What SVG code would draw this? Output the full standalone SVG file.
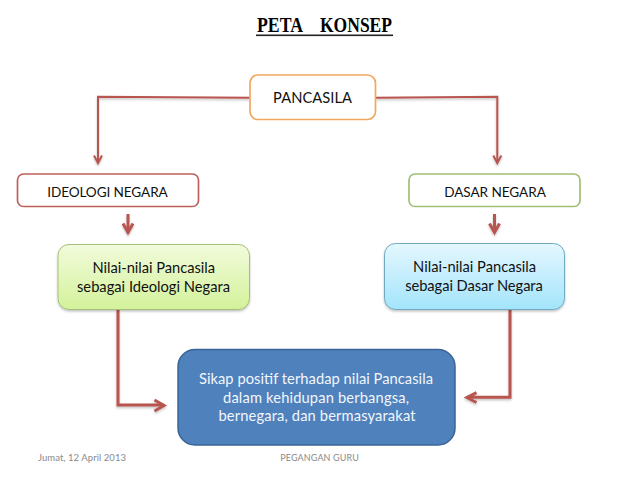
<svg xmlns="http://www.w3.org/2000/svg" width="638" height="479" viewBox="0 0 638 479">
<style>
text{font-family:Lato,"Liberation Sans",sans-serif;font-size:14.700px;text-anchor:middle;fill:#111}
.u{font-size:13.600px}
.w{fill:#f2f6fb}
.f{font-size:9.500px;fill:#8a8a8a}
.t{font-family:"Liberation Serif",serif;font-weight:bold;font-size:20px;text-anchor:start;fill:#000}
.c{fill:none;stroke:#b85450;stroke-linejoin:miter}
.c1{stroke-width:2}
.c2{stroke-width:3}
.sh{filter:url(#s)}
</style>
<defs>
<linearGradient id="g" x1="0" y1="0" x2="0" y2="1"><stop offset="0" stop-color="#f2fbdc"/><stop offset="1" stop-color="#d3f29a"/></linearGradient>
<linearGradient id="b" x1="0" y1="0" x2="0" y2="1"><stop offset="0" stop-color="#e4f7fe"/><stop offset="1" stop-color="#a3e4fb"/></linearGradient>
<filter id="s" x="-10%" y="-10%" width="120%" height="130%"><feDropShadow dx="0" dy="1.500" stdDeviation="1.200" flood-color="#000" flood-opacity=".25"/></filter>
</defs>
<g id="title"><text class="t" x="257" y="32"><tspan x="257" textLength="46" lengthAdjust="spacingAndGlyphs">PETA</tspan><tspan x="320" textLength="72" lengthAdjust="spacingAndGlyphs">KONSEP</tspan></text><rect x="256" y="34.500" width="137" height="1.600" fill="#222"/></g>
<g id="connectors" class="sh">
<path class="c c1" d="M250 97.700L98 96.700V162"/>
<path class="c c1" d="M94 155.500L98 163L102 155.500"/>
<path class="c c1" d="M376 97.700L497.300 96.700V162"/>
<path class="c c1" d="M493.300 155.500L497.300 163L501.300 155.500"/>
<path class="c c2" d="M128 214V233"/>
<path class="c c2" d="M123 223.500L128 232.500L133 223.500"/>
<path class="c c2" d="M494.500 214V233"/>
<path class="c c2" d="M489.500 223.500L494.500 232.500L499.500 223.500"/>
<path class="c c2" d="M118 310V405H164"/>
<path class="c c2" d="M154.500 400L164 405.500L154.500 411"/>
<path class="c c2" d="M510 310V397.300H467"/>
<path class="c c2" d="M476.500 392.700L467 397.500L476.500 402.500"/>
</g>
<g id="pancasila"><rect x="250" y="75" width="125.500" height="44.500" rx="8" fill="#fff" stroke="#f0a860" stroke-width="1.700"/><text x="312.500" y="103" textLength="79">PANCASILA</text></g>
<g id="ideologi"><rect x="17.500" y="174" width="181" height="32.500" rx="6" fill="#fff" stroke="#c0605c" stroke-width="1.700"/><text class="u" x="107.500" y="196.500" textLength="120.500">IDEOLOGI NEGARA</text></g>
<g id="dasar"><rect x="409" y="174" width="171" height="32.500" rx="6" fill="#fff" stroke="#a3bf73" stroke-width="1.700"/><text class="u" x="495" y="196.500" textLength="101.700">DASAR NEGARA</text></g>
<g id="nilai-ideologi"><rect class="sh" x="58" y="244.500" width="191.500" height="65" rx="11" fill="url(#g)" stroke="#a5bf78"/><text x="153.800" y="273" textLength="122.500">Nilai-nilai Pancasila</text><text x="153.500" y="292" textLength="153">sebagai Ideologi Negara</text></g>
<g id="nilai-dasar"><rect class="sh" x="384.500" y="243.500" width="180" height="66" rx="11" fill="url(#b)" stroke="#6fa9c0"/><text x="474.600" y="272" textLength="123">Nilai-nilai Pancasila</text><text x="474" y="291" textLength="137.700">sebagai Dasar Negara</text></g>
<g id="sikap"><rect x="178" y="349.500" width="277" height="95.500" rx="17" fill="#4f81bd" stroke="#3a6596" stroke-width="1.500"/><text class="w" x="316" y="384" textLength="234">Sikap positif terhadap nilai Pancasila</text><text class="w" x="316" y="403" textLength="186">dalam kehidupan berbangsa,</text><text class="w" x="317" y="421" textLength="197">bernegara, dan bermasyarakat</text></g>
<g id="footer"><text class="f" x="82" y="461" textLength="88">Jumat, 12 April 2013</text><text class="f" x="319.500" y="461" textLength="78.500" style="font-size:9px">PEGANGAN GURU</text></g>
</svg>
